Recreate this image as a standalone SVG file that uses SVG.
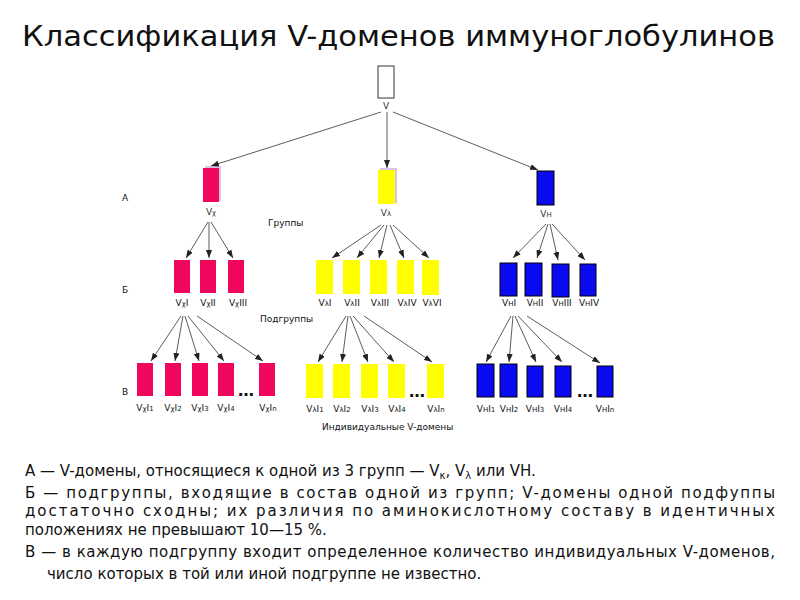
<svg xmlns="http://www.w3.org/2000/svg" width="800" height="600" viewBox="0 0 800 600">
<style>
text{font-family:"DejaVu Sans",sans-serif;fill:#111}
.t{font-size:29px}
.l{font-size:9px;fill:#333}
.s{font-size:7px}
.b{font-size:15px}
.sh{fill:#d9c3ea}
.r{fill:#f0065c}.y{fill:#ffff00}.bl{fill:#0a0af0;stroke:#000;stroke-width:1}
.ar line{stroke:#333;stroke-width:0.8;marker-end:url(#a)}
</style>
<defs>
<marker id="a" markerWidth="8" markerHeight="6" refX="8" refY="3" orient="auto" markerUnits="userSpaceOnUse"><path d="M0,0L8,3L0,6z" fill="#222"/></marker>
</defs>
<rect width="800" height="600" fill="#fff"/>
<text class="t" x="22" y="46" textLength="753" lengthAdjust="spacingAndGlyphs">Классификация V-доменов иммуноглобулинов</text>
<g id="root"><rect x="378" y="66" width="16" height="32" fill="#fff" stroke="#333"/><text class="l" x="386" y="109" text-anchor="middle">V</text></g>
<g class="l">
<text x="122" y="201">А</text><text x="122" y="293">Б</text><text x="122" y="395">В</text>
<text x="268" y="226">Группы</text><text x="260" y="322">Подгруппы</text><text x="322" y="430">Индивидуальные V-домены</text>
</g>
<g id="groups">
<rect class="sh" x="205" y="166" width="16" height="35"/><rect class="r" x="203" y="168" width="16" height="34"/>
<text class="l" x="211" y="215" text-anchor="middle">V<tspan class="s">χ</tspan></text>
<rect class="sh" x="380" y="168" width="17" height="35"/><rect class="y" x="378" y="170" width="17" height="34"/>
<text class="l" x="386" y="216" text-anchor="middle">V<tspan class="s">λ</tspan></text>
<rect class="bl" x="537" y="171" width="17" height="34"/>
<text class="l" x="546" y="217" text-anchor="middle">V<tspan class="s">H</tspan></text>
</g>
<g id="subgroups">
<rect class="r" x="174" y="260" width="16" height="33"/><rect class="r" x="200" y="260" width="16" height="33"/><rect class="r" x="228" y="260" width="16" height="33"/>
<rect class="y" x="316" y="260" width="17" height="34"/><rect class="y" x="343" y="260" width="17" height="34"/><rect class="y" x="370" y="260" width="17" height="34"/><rect class="y" x="397" y="260" width="17" height="34"/><rect class="y" x="422" y="260" width="17" height="35"/>
<rect class="bl" x="500" y="263" width="17" height="33"/><rect class="bl" x="525" y="263" width="17" height="33"/><rect class="bl" x="552" y="264" width="17" height="33"/><rect class="bl" x="580" y="264" width="16" height="32"/>
<g class="l" text-anchor="middle">
<text x="182" y="306">V<tspan class="s">χ</tspan>I</text><text x="208" y="306">V<tspan class="s">χ</tspan>II</text><text x="238" y="306">V<tspan class="s">χ</tspan>III</text>
<text x="325" y="306">V<tspan class="s">λ</tspan>I</text><text x="352" y="306">V<tspan class="s">λ</tspan>II</text><text x="380" y="306">V<tspan class="s">λ</tspan>III</text><text x="407" y="306">V<tspan class="s">λ</tspan>IV</text><text x="432" y="306">V<tspan class="s">λ</tspan>VI</text>
<text x="509" y="306">V<tspan class="s">H</tspan>I</text><text x="535" y="306">V<tspan class="s">H</tspan>II</text><text x="562" y="306">V<tspan class="s">H</tspan>III</text><text x="589" y="306">V<tspan class="s">H</tspan>IV</text>
</g>
</g>
<g id="domains">
<rect class="r" x="137" y="363" width="16" height="33"/><rect class="r" x="165" y="363" width="16" height="33"/><rect class="r" x="192" y="363" width="16" height="33"/><rect class="r" x="218" y="363" width="16" height="33"/><rect class="r" x="259" y="363" width="16" height="33"/>
<rect class="y" x="306" y="364" width="17" height="34"/><rect class="y" x="333" y="364" width="17" height="34"/><rect class="y" x="361" y="364" width="17" height="34"/><rect class="y" x="388" y="364" width="17" height="34"/><rect class="y" x="427" y="364" width="17" height="34"/>
<rect class="bl" x="477" y="364" width="17" height="33"/><rect class="bl" x="500" y="364" width="17" height="33"/><rect class="bl" x="527" y="366" width="16" height="31"/><rect class="bl" x="555" y="366" width="16" height="31"/><rect class="bl" x="597" y="366" width="16" height="31"/>
<g font-size="16" font-weight="bold" text-anchor="middle"><text x="246" y="396">…</text><text x="417" y="397">…</text><text x="585" y="397">…</text></g>
<g class="l" text-anchor="middle">
<text x="145" y="411">V<tspan class="s">χ</tspan>I<tspan class="s">1</tspan></text><text x="173" y="411">V<tspan class="s">χ</tspan>I<tspan class="s">2</tspan></text><text x="200" y="411">V<tspan class="s">χ</tspan>I<tspan class="s">3</tspan></text><text x="226" y="411">V<tspan class="s">χ</tspan>I<tspan class="s">4</tspan></text><text x="268" y="411">V<tspan class="s">χ</tspan>I<tspan class="s">n</tspan></text>
<text x="315" y="412">V<tspan class="s">λ</tspan>I<tspan class="s">1</tspan></text><text x="342" y="412">V<tspan class="s">λ</tspan>I<tspan class="s">2</tspan></text><text x="370" y="412">V<tspan class="s">λ</tspan>I<tspan class="s">3</tspan></text><text x="397" y="412">V<tspan class="s">λ</tspan>I<tspan class="s">4</tspan></text><text x="436" y="412">V<tspan class="s">λ</tspan>I<tspan class="s">n</tspan></text>
<text x="486" y="412">V<tspan class="s">H</tspan>I<tspan class="s">1</tspan></text><text x="509" y="412">V<tspan class="s">H</tspan>I<tspan class="s">2</tspan></text><text x="535" y="412">V<tspan class="s">H</tspan>I<tspan class="s">3</tspan></text><text x="563" y="412">V<tspan class="s">H</tspan>I<tspan class="s">4</tspan></text><text x="605" y="412">V<tspan class="s">H</tspan>I<tspan class="s">n</tspan></text>
</g>
</g>
<g id="connectors" class="ar">
<line x1="381" y1="112" x2="211" y2="166"/><line x1="387" y1="112" x2="387" y2="168"/><line x1="393" y1="112" x2="538" y2="170"/>
<line x1="208" y1="222" x2="186" y2="258"/><line x1="209" y1="222" x2="209" y2="258"/><line x1="211" y1="222" x2="233" y2="258"/>
<line x1="381" y1="225" x2="332" y2="258"/><line x1="384" y1="225" x2="357" y2="258"/><line x1="387" y1="225" x2="379" y2="258"/><line x1="390" y1="225" x2="404" y2="258"/><line x1="393" y1="225" x2="429" y2="258"/>
<line x1="546" y1="224" x2="513" y2="258"/><line x1="548" y1="224" x2="537" y2="258"/><line x1="550" y1="224" x2="558" y2="260"/><line x1="552" y1="224" x2="585" y2="260"/>
<line x1="181" y1="316" x2="151" y2="361"/><line x1="183" y1="316" x2="175" y2="361"/><line x1="185" y1="316" x2="199" y2="361"/><line x1="188" y1="316" x2="224" y2="361"/><line x1="197" y1="316" x2="263" y2="361"/>
<line x1="346" y1="316" x2="318" y2="362"/><line x1="348" y1="316" x2="342" y2="362"/><line x1="350" y1="316" x2="368" y2="362"/><line x1="353" y1="316" x2="394" y2="362"/><line x1="364" y1="316" x2="432" y2="362"/>
<line x1="511" y1="316" x2="486" y2="362"/><line x1="513" y1="316" x2="509" y2="362"/><line x1="515" y1="316" x2="536" y2="362"/><line x1="518" y1="316" x2="562" y2="362"/><line x1="527" y1="316" x2="600" y2="363"/>
</g>
<g id="legend" class="b">
<text x="25" y="476">А — V-домены, относящиеся к одной из 3 групп — V<tspan font-size="10" dy="3">κ</tspan><tspan dy="-3">, V</tspan><tspan font-size="10" dy="3">λ</tspan><tspan dy="-3"> или VH.</tspan></text>
<text x="25" y="498" textLength="750" lengthAdjust="spacing">Б — подгруппы, входящие в состав одной из групп; V-домены одной подфуппы</text>
<text x="25" y="516" textLength="750" lengthAdjust="spacing">достаточно    сходны; их различия по аминокислотному составу в идентичных</text>
<text x="25" y="535">положениях не превышают 10—15 %.</text>
<text x="25" y="557" textLength="750" lengthAdjust="spacing">В —  в каждую подгруппу входит определенное количество индивидуальных V-доменов,</text>
<text x="47" y="579">число которых в той или иной подгруппе не известно.</text>
</g>
</svg>
